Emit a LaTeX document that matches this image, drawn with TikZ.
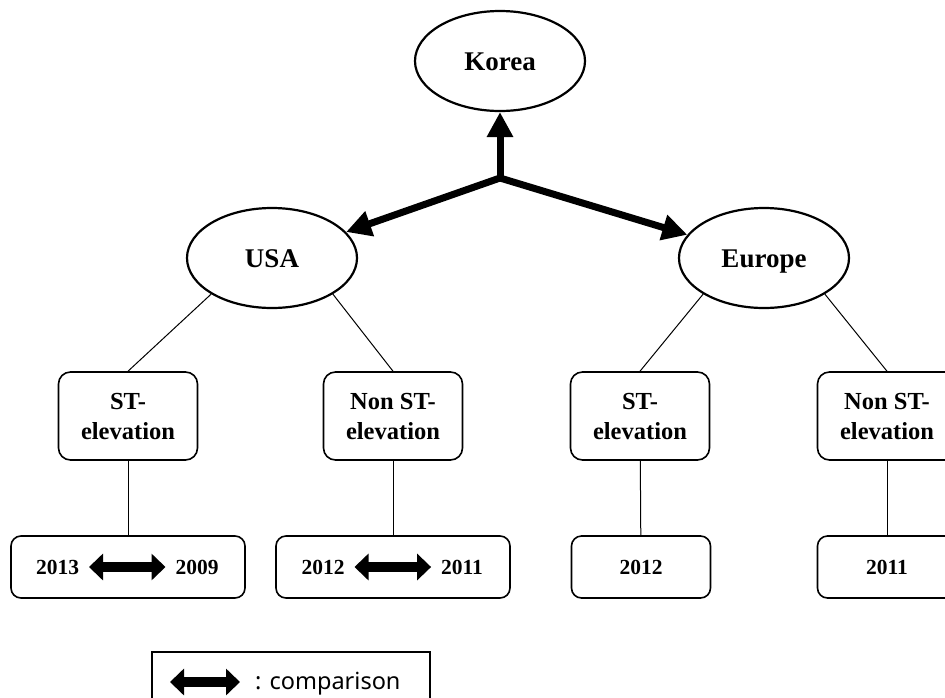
\documentclass[tikz,border=0pt]{standalone}
\usepackage{fontspec}
\setmainfont{Liberation Serif}
\newfontfamily\legendfont{Noto Sans}
\usetikzlibrary{arrows.meta,shapes.geometric}

\begin{document}
\begin{tikzpicture}[x=1pt,y=-1pt,
    country/.style={draw,ellipse,line width=2.2pt,minimum width=170pt,minimum height=100pt,inner sep=0pt,text height=18pt,text depth=0pt,font=\fontsize{27}{32}\selectfont\bfseries},
    group/.style={draw,rounded corners=12pt,line width=1.6pt,minimum width=139pt,minimum height=88pt,align=center,font=\fontsize{24.5}{30}\selectfont\bfseries},
    yearbox/.style={draw,rounded corners=10pt,line width=1.6pt,minimum height=62pt,font=\fontsize{21.5}{26}\selectfont\bfseries},
    year/.style={inner sep=0pt,outer sep=10pt,font=\fontsize{21.5}{26}\selectfont\bfseries},
    flow/.style={line width=7pt,line cap=round,-{Triangle[length=25pt,width=25pt]}},
    cmp/.style={line width=10pt,{Triangle[length=14pt,width=26pt]}-{Triangle[length=14pt,width=26pt]}},
    link/.style={line width=1pt}]
  \useasboundingbox (0,0) rectangle (945,697);

  % countries
  \node[country] (korea) at (500,61) {Korea};
  \node[country] (usa) at (272,258) {USA};
  \node[country] (europe) at (764,258) {Europe};
  \coordinate (hub) at (500,178);

  \draw[flow] (hub) -- (korea);
  \draw[flow] (hub) -- (usa);
  \draw[flow] (hub) -- (europe);

  % ST / non ST groups
  \node[group] (stA) at (128,416) {ST-\\elevation};
  \node[group] (nstA) at (393,416) {Non ST-\\elevation};
  \node[group] (stB) at (640,416) {ST-\\elevation};
  \node[group] (nstB) at (887,416) {Non ST-\\elevation};

  \draw[link] (usa.south west) -- (stA.north);
  \draw[link] (usa.south east) -- (nstA.north);
  \draw[link] (europe.south west) -- (stB.north);
  \draw[link] (europe.south east) -- (nstB.north);

  % years
  \node[yearbox,minimum width=234pt] (yrA) at (128,567) {};
  \node[year] (y2013) at (57.5,567) {2013};
  \node[year] (y2009) at (197,567) {2009};
  \draw[cmp] (y2013) -- (y2009);

  \node[yearbox,minimum width=234pt] (yrB) at (393,567) {};
  \node[year] (y2012) at (323,567) {2012};
  \node[year] (y2011) at (462,567) {2011};
  \draw[cmp] (y2012) -- (y2011);

  \node[yearbox,minimum width=139pt] (yrC) at (641,567) {2012};
  \node[yearbox,minimum width=139pt] (yrD) at (887,567) {2011};

  \draw[link] (stA) -- (yrA);
  \draw[link] (nstA) -- (yrB);
  \draw[link] (stB) -- (yrC);
  \draw[link] (nstB) -- (yrD);

  % legend
  \node[draw,line width=1.2pt,minimum width=278pt,minimum height=60pt] (legend) at (291,682) {};
  \coordinate (cmpL) at (170,682);
  \coordinate (cmpR) at (240,682);
  \draw[cmp] (cmpL) -- (cmpR);
  \node[anchor=base west,inner sep=0pt,font=\legendfont\fontsize{23.5}{28}\selectfont] (legtxt) at (255,689) {: comparison};
\end{tikzpicture}
\end{document}
